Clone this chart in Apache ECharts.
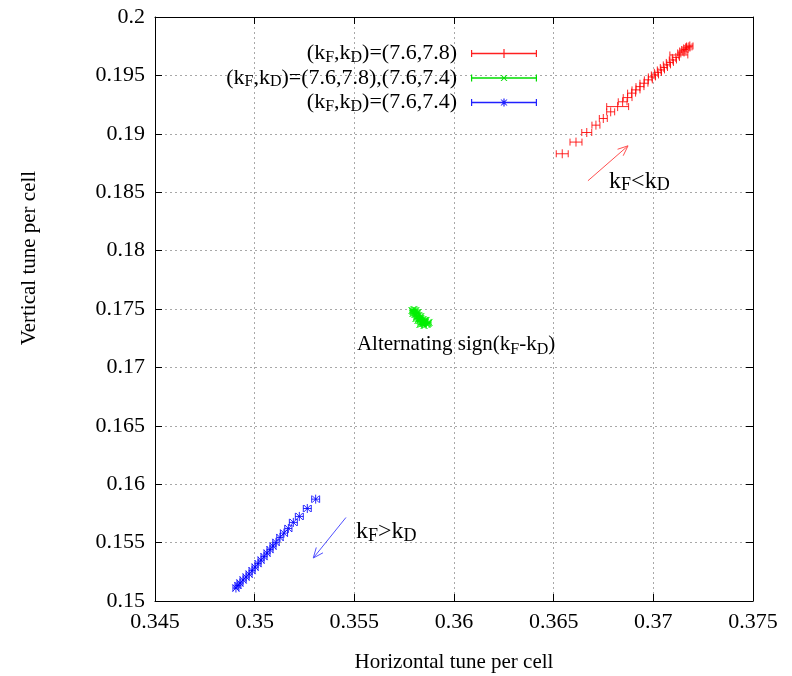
<!DOCTYPE html>
<html>
<head>
<meta charset="utf-8">
<script src="https://cdn.jsdelivr.net/npm/echarts@6/dist/echarts.min.js"></script>
<style>html,body{margin:0;padding:0;background:#fff;}#c{width:792px;height:676px;}</style>
</head>
<body>
<div id="c"></div>
<script>
// ---- data ----
const xTicks = [0.345, 0.35, 0.355, 0.36, 0.365, 0.37, 0.375];
const yTicks = [0.15, 0.155, 0.16, 0.165, 0.17, 0.175, 0.18, 0.185, 0.19, 0.195, 0.2];

const seriesNames = ['r', 'g', 'b'];
const legendLabels = ['(k{s|F},k{s|D})=(7.6,7.8)', '(k{s|F},k{s|D})=(7.6,7.8),(7.6,7.4)', '(k{s|F},k{s|D})=(7.6,7.4)'];

const redX = [0.36543, 0.36612, 0.36666, 0.36712, 0.36749, 0.36786, 0.36821, 0.36846, 0.36871, 0.36891,
  0.36913, 0.36933, 0.36953, 0.36975, 0.36993, 0.37008, 0.37023, 0.37038, 0.37053, 0.37068,
  0.37083, 0.37098, 0.37113, 0.37128, 0.37138, 0.37148, 0.37158, 0.37168, 0.37178, 0.37183];
const redY = [0.18829, 0.18929, 0.19011, 0.19074, 0.19131, 0.19188, 0.19233, 0.19274, 0.1931, 0.19348,
  0.19376, 0.19404, 0.19433, 0.19462, 0.19487, 0.19504, 0.19526, 0.19547, 0.19568, 0.1959,
  0.19611, 0.19632, 0.19654, 0.19675, 0.19692, 0.19709, 0.19722, 0.19735, 0.19744, 0.19752];
const redErr = [0.0003, 0.0003, 0.00025, 0.0002, 0.0002, 0.0002, 0.00055, 0.00022, 0.00022, 0.0002,
  0.0002, 0.0002, 0.0002, 0.0002, 0.00018, 0.00018, 0.00018, 0.00018, 0.00018, 0.00018,
  0.00018, 0.00018, 0.00018, 0.00045, 0.00016, 0.00016, 0.00016, 0.00016, 0.00016, 0.00016];

const greenX = [0.35789, 0.35799, 0.35809, 0.35794, 0.35804, 0.35819, 0.35814, 0.35824, 0.35809, 0.35829,
  0.3584, 0.35834, 0.35845, 0.35855, 0.3585, 0.35865, 0.35875, 0.3586, 0.35819, 0.35829,
  0.35794, 0.35804, 0.35814, 0.35824, 0.35834, 0.35845, 0.35855, 0.35840, 0.35850, 0.35870];
const greenY = [0.17487, 0.17496, 0.17487, 0.17462, 0.17453, 0.1747, 0.17436, 0.17419, 0.17419, 0.17402,
  0.17393, 0.17436, 0.17376, 0.17385, 0.17359, 0.17368, 0.17385, 0.17402, 0.17402, 0.17368,
  0.17478, 0.17470, 0.17462, 0.17445, 0.17419, 0.17410, 0.17402, 0.17376, 0.17393, 0.17376];
const greenErr = [0.0001, 0.0001, 0.0001, 0.0001, 0.0001, 0.0001, 0.0001, 0.0001, 0.0001, 0.0001,
  0.0001, 0.0001, 0.0001, 0.0001, 0.0001, 0.0001, 0.0001, 0.0001, 0.0001, 0.0001,
  0.0001, 0.0001, 0.0001, 0.0001, 0.0001, 0.0001, 0.0001, 0.0001, 0.0001, 0.0001];

const blueX = [0.35306, 0.35264, 0.35224, 0.35194, 0.35169, 0.35147, 0.35127, 0.35107, 0.35092, 0.35077,
  0.35062, 0.35047, 0.35032, 0.35017, 0.35002, 0.34987, 0.34972, 0.34957, 0.34942, 0.34926, 0.34916, 0.34906];
const blueY = [0.15872, 0.15792, 0.15724, 0.15673, 0.15621, 0.15581, 0.15544, 0.15502, 0.1547, 0.1544,
  0.1541, 0.1538, 0.1535, 0.1532, 0.1529, 0.1526, 0.1523, 0.15205, 0.1518, 0.15154, 0.15133, 0.15111];
const blueErr = [0.0002, 0.0002, 0.0002, 0.0002, 0.00018, 0.00018, 0.00016, 0.00016, 0.00015, 0.00015,
  0.00015, 0.00015, 0.00015, 0.00015, 0.00015, 0.00015, 0.00015, 0.00015, 0.00015, 0.00015, 0.00015, 0.00015];

// annotation anchors (data coordinates)
const arrowRed = [0.36672, 0.18598, 0.36873, 0.18897];
const arrowBlue = [0.35458, 0.15715, 0.35294, 0.15368];
const noteText = ['k{s|F}<k{s|D}', 'k{s|F}>k{s|D}', 'Alternating sign(k{s|F}-k{s|D})'];
const noteX = [0.36778, 0.35508, 0.35513];
const noteY = [0.18590, 0.15590, 0.17197];

// ---- chart ----
const FONT = 'Liberation Serif';
const zip3 = (a, b, c) => a.map((v, i) => [v, b[i], c[i]]);

function errRender(kind) {
  return function (params, api) {
    const x = api.value(0), y = api.value(1), e = api.value(2);
    const p = api.coord([x, y]);
    const l = api.coord([x - e, y]);
    const r = api.coord([x + e, y]);
    const color = api.visual('color');
    const st = { stroke: color, lineWidth: 1, fill: null, opacity: 0.85 };
    const cap = 3.5, m = 3.5;
    const ch = [
      { type: 'line', shape: { x1: l[0], y1: p[1], x2: r[0], y2: p[1] }, style: st },
      { type: 'line', shape: { x1: l[0], y1: p[1] - cap, x2: l[0], y2: p[1] + cap }, style: st },
      { type: 'line', shape: { x1: r[0], y1: p[1] - cap, x2: r[0], y2: p[1] + cap }, style: st }
    ];
    if (kind === 'plus' || kind === 'star') {
      ch.push({ type: 'line', shape: { x1: p[0], y1: p[1] - m - 1, x2: p[0], y2: p[1] + m + 1 }, style: st });
    }
    if (kind === 'cross' || kind === 'star') {
      ch.push({ type: 'line', shape: { x1: p[0] - m, y1: p[1] - m, x2: p[0] + m, y2: p[1] + m }, style: st });
      ch.push({ type: 'line', shape: { x1: p[0] - m, y1: p[1] + m, x2: p[0] + m, y2: p[1] - m }, style: st });
    }
    return { type: 'group', children: ch };
  };
}

function arrowRender(color) {
  return function (params, api) {
    const a = api.coord([api.value(0), api.value(1)]);
    const b = api.coord([api.value(2), api.value(3)]);
    const ang = Math.atan2(b[1] - a[1], b[0] - a[0]);
    const L = 11, w = 0.4;
    const h1 = [b[0] - L * Math.cos(ang - w), b[1] - L * Math.sin(ang - w)];
    const h2 = [b[0] - L * Math.cos(ang + w), b[1] - L * Math.sin(ang + w)];
    const st = { stroke: color, lineWidth: 1, fill: null };
    return { type: 'group', children: [
      { type: 'line', shape: { x1: a[0], y1: a[1], x2: b[0], y2: b[1] }, style: st },
      { type: 'polyline', shape: { points: [h1, b, h2] }, style: st }
    ] };
  };
}

const subRich = { s: { fontSize: 16, fontFamily: FONT, lineHeight: 12, verticalAlign: 'bottom', color: '#000' } };

const legIconRed = 'path://M0,0H0.01V10H0Z M0,4.2H66V5.8H0Z M0,1.5H1.2V8.5H0Z M64.8,1.5H66V8.5H64.8Z M32.4,0.5H33.6V9.5H32.4Z';
const legIconGreen = 'path://M0,0H0.01V10H0Z M0,4.2H66V5.8H0Z M0,1.5H1.2V8.5H0Z M64.8,1.5H66V8.5H64.8Z M29.5,2L30.7,2L36.5,8L35.3,8Z M35.3,2L36.5,2L30.7,8L29.5,8Z';
const legIconBlue = 'path://M0,0H0.01V10H0Z M0,4.2H66V5.8H0Z M0,1.5H1.2V8.5H0Z M64.8,1.5H66V8.5H64.8Z M32.4,1H33.6V9H32.4Z M29.5,2L30.7,2L36.5,8L35.3,8Z M35.3,2L36.5,2L30.7,8L29.5,8Z';

const chart = echarts.init(document.getElementById('c'), null, { renderer: 'canvas' });
const axisCommon = {
  type: 'value',
  axisLine: { show: true, onZero: false, lineStyle: { color: '#000', width: 1 } },
  axisTick: { show: true, inside: true, length: 7, lineStyle: { color: '#000' } }
};
chart.setOption({
  animation: false,
  backgroundColor: '#fff',
  grid: { left: 155, right: 39, top: 17, bottom: 75, containLabel: false, outerBoundsMode: 'none' },
  legend: {
    orient: 'vertical',
    align: 'right',
    right: 255,
    top: 41.5,
    z: 10,
    padding: 0,
    itemGap: 0.5,
    itemWidth: 66,
    itemHeight: 10,
    selectedMode: false,
    data: [
      { name: 'r', icon: legIconRed, itemStyle: { color: '#ff2020', borderWidth: 0 } },
      { name: 'g', icon: legIconGreen, itemStyle: { color: '#00dd00', borderWidth: 0 } },
      { name: 'b', icon: legIconBlue, itemStyle: { color: '#2020ff', borderWidth: 0 } }
    ],
    formatter: function (n) { return legendLabels[seriesNames.indexOf(n)]; },
    textStyle: { fontFamily: FONT, fontSize: 22, color: '#000', lineHeight: 24, padding: [0, 9, 0, 0], rich: subRich }
  },
  xAxis: [
    Object.assign({}, axisCommon, {
      min: xTicks[0], max: xTicks[xTicks.length - 1], interval: 0.005, position: 'bottom',
      axisLabel: { fontFamily: FONT, fontSize: 22, color: '#000', margin: 10, formatter: v => String(+v.toFixed(3)) },
      splitLine: { show: true, lineStyle: { color: '#a8a8a8', type: [2, 3], width: 1 } },
      name: 'Horizontal tune per cell', nameLocation: 'middle', nameGap: 51,
      nameTextStyle: { fontFamily: FONT, fontSize: 21, color: '#000' }
    }),
    Object.assign({}, axisCommon, {
      min: xTicks[0], max: xTicks[xTicks.length - 1], interval: 0.005, position: 'top',
      axisLabel: { show: false }, splitLine: { show: false }
    })
  ],
  yAxis: [
    Object.assign({}, axisCommon, {
      min: yTicks[0], max: yTicks[yTicks.length - 1], interval: 0.005, position: 'left',
      axisLabel: { fontFamily: FONT, fontSize: 22, color: '#000', margin: 10, formatter: v => String(+v.toFixed(3)) },
      splitLine: { show: true, lineStyle: { color: '#a8a8a8', type: [2, 3], width: 1 } },
      name: 'Vertical tune per cell', nameLocation: 'middle', nameGap: 115,
      nameTextStyle: { fontFamily: FONT, fontSize: 21, color: '#000', padding: [0, 0, 0, 102] }
    }),
    Object.assign({}, axisCommon, {
      min: yTicks[0], max: yTicks[yTicks.length - 1], interval: 0.005, position: 'right',
      axisLabel: { show: false }, splitLine: { show: false }
    })
  ],
  series: [
    { name: 'r', type: 'custom', renderItem: errRender('plus'), itemStyle: { color: '#ff0000' },
      encode: { x: 0, y: 1 }, data: zip3(redX, redY, redErr), z: 3 },
    { name: 'g', type: 'custom', renderItem: errRender('cross'), itemStyle: { color: '#00ee00' },
      encode: { x: 0, y: 1 }, data: zip3(greenX, greenY, greenErr), z: 3 },
    { name: 'b', type: 'custom', renderItem: errRender('star'), itemStyle: { color: '#0000ff' },
      encode: { x: 0, y: 1 }, data: zip3(blueX, blueY, blueErr), z: 3 },
    { type: 'custom', renderItem: arrowRender('#ff5050'), encode: { x: 0, y: 1 }, data: [arrowRed], z: 2, silent: true },
    { type: 'custom', renderItem: arrowRender('#5050ff'), encode: { x: 0, y: 1 }, data: [arrowBlue], z: 2, silent: true },
    { type: 'custom', encode: { x: 0, y: 1 }, z: 4, silent: true,
      data: noteX.map((v, i) => [v, noteY[i], i]),
      renderItem: function (params, api) {
        const p = api.coord([api.value(0), api.value(1)]);
        return { type: 'text', x: p[0], y: p[1], style: {
          text: noteText[api.value(2)], fontFamily: FONT, fontSize: api.value(2) === 2 ? 21 : 24,
          fill: '#000', align: 'left', verticalAlign: 'middle', lineHeight: 26,
          rich: { s: { fontSize: api.value(2) === 2 ? 16 : 18, fontFamily: FONT, lineHeight: 12, verticalAlign: 'bottom', fill: '#000', color: '#000' } }
        } };
      } }
  ]
});
</script>
</body>
</html>
